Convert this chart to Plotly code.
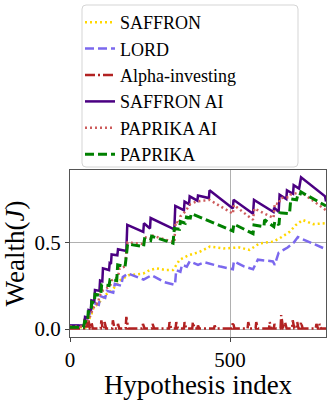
import plotly.graph_objects as go

# ---------------- data ----------------
saffron_x = [0, 50, 58, 66, 73, 90, 109, 130, 156, 182, 210, 229, 249, 270, 300, 322, 343, 370, 405, 437, 480, 530, 561, 592, 634, 655, 686, 706, 727, 760, 800]
saffron_y = [0.01, 0.01, 0.05, 0.08, 0.12, 0.15, 0.195, 0.22, 0.28, 0.31, 0.315, 0.32, 0.34, 0.35, 0.34, 0.34, 0.40, 0.425, 0.445, 0.475, 0.465, 0.47, 0.456, 0.494, 0.504, 0.523, 0.56, 0.60, 0.629, 0.605, 0.61]

lord_x = [0, 45, 50, 60, 68, 75, 90, 95, 110, 115, 135, 140, 160, 165, 182, 230, 255, 296, 328, 332, 345, 350, 365, 374, 400, 420, 470, 509, 512, 545, 572, 587, 634, 640, 652, 680, 700, 712, 800]
lord_y = [0.02, 0.02, 0.05, 0.08, 0.12, 0.15, 0.14, 0.19, 0.18, 0.22, 0.21, 0.26, 0.25, 0.30, 0.32, 0.285, 0.31, 0.27, 0.255, 0.34, 0.33, 0.37, 0.36, 0.39, 0.37, 0.385, 0.36, 0.345, 0.39, 0.36, 0.345, 0.40, 0.39, 0.37, 0.44, 0.47, 0.50, 0.53, 0.46]

alpha_x = [0, 44, 46, 49, 51, 53, 56, 58, 62, 65, 67, 71, 96, 98, 102, 106, 108, 113, 132, 134, 139, 148, 150, 154,
           174, 176, 182, 226, 228, 233, 256, 258, 263, 309, 311, 316, 330, 332, 337, 356, 358, 363, 382, 384, 389,
           398, 400, 404, 450, 452, 456, 507, 509, 514, 555, 557, 562, 580, 582, 587, 622, 624, 629, 637, 639, 643,
           658, 660, 666, 670, 672, 677, 694, 696, 701, 708, 710, 714, 720, 722, 727, 768, 770, 775, 778, 780, 784, 800]
alpha_y = [0.003, 0.003, 0.06, 0.003, 0.003, 0.04, 0.003, 0.05, 0.003, 0.003, 0.04, 0.003, 0.003, 0.05, 0.003, 0.003, 0.04, 0.003,
           0.003, 0.05, 0.003, 0.003, 0.03, 0.003, 0.003, 0.07, 0.003, 0.003, 0.03, 0.003, 0.003, 0.03, 0.003,
           0.003, 0.04, 0.003, 0.003, 0.04, 0.003, 0.003, 0.04, 0.003, 0.003, 0.04, 0.003, 0.003, 0.02, 0.003,
           0.003, 0.02, 0.003, 0.003, 0.04, 0.003, 0.003, 0.04, 0.003, 0.003, 0.04, 0.003, 0.003, 0.04, 0.003,
           0.003, 0.03, 0.003, 0.003, 0.08, 0.003, 0.003, 0.04, 0.003, 0.003, 0.05, 0.003, 0.003, 0.04, 0.003,
           0.003, 0.04, 0.003, 0.003, 0.03, 0.003, 0.003, 0.03, 0.003, 0.003]

saffron_ai_x = [0, 45, 47, 56, 58, 65, 67, 76, 78, 92, 94, 101, 103, 122, 124, 128, 130, 148, 150, 176, 179, 229, 231, 250, 252,
                326, 329, 356, 358, 372, 374, 398, 400, 434, 436, 509, 511, 572, 575, 636, 638, 652, 655, 676, 678, 697, 699,
                716, 722, 797, 800]
saffron_ai_y = [0.02, 0.02, 0.07, 0.065, 0.11, 0.105, 0.165, 0.16, 0.225, 0.22, 0.28, 0.275, 0.35, 0.34, 0.38, 0.375, 0.43, 0.425,
                0.46, 0.45, 0.60, 0.56, 0.61, 0.58, 0.64, 0.575, 0.71, 0.685, 0.735, 0.72, 0.765, 0.74, 0.77, 0.755, 0.80,
                0.695, 0.745, 0.665, 0.745, 0.675, 0.70, 0.675, 0.775, 0.75, 0.80, 0.78, 0.83, 0.81, 0.875, 0.765, 0.735]

paprika_ai_x = [0, 45, 50, 60, 70, 78, 88, 92, 104, 125, 130, 150, 155, 172, 176, 180, 230, 233, 252, 255, 326, 330, 342, 345,
                359, 376, 395, 436, 509, 512, 572, 576, 636, 640, 652, 658, 686, 690, 722, 800]
paprika_ai_y = [0.015, 0.015, 0.04, 0.06, 0.11, 0.14, 0.15, 0.19, 0.225, 0.245, 0.28, 0.30, 0.35, 0.36, 0.44, 0.50, 0.49, 0.53,
                0.52, 0.54, 0.50, 0.62, 0.61, 0.65, 0.675, 0.72, 0.735, 0.745, 0.665, 0.715, 0.63, 0.695, 0.64, 0.725,
                0.72, 0.755, 0.76, 0.775, 0.79, 0.685]

paprika_x = [0, 42, 46, 55, 57, 66, 68, 76, 78, 96, 99, 122, 125, 146, 149, 172, 176, 180, 230, 233, 252, 255, 322, 326, 342,
             345, 360, 364, 376, 379, 509, 512, 572, 575, 606, 608, 637, 640, 653, 656, 686, 690, 708, 712, 718, 722, 800]
paprika_y = [0.01, 0.01, 0.045, 0.04, 0.10, 0.10, 0.155, 0.15, 0.20, 0.195, 0.255, 0.25, 0.285, 0.28, 0.37, 0.36, 0.42, 0.49,
             0.475, 0.52, 0.51, 0.535, 0.495, 0.58, 0.575, 0.62, 0.61, 0.645, 0.64, 0.665, 0.565, 0.605, 0.55, 0.60,
             0.59, 0.63, 0.59, 0.62, 0.60, 0.67, 0.665, 0.75, 0.745, 0.775, 0.77, 0.79, 0.71]

x_ticks = [0, 500]
y_ticks = [0.0, 0.5]
y_ticktext = ["0.0", "0.5"]

series = [
    ("SAFFRON", saffron_x, saffron_y, "#FFD700", "2px,3px", 2.5),
    ("LORD", lord_x, lord_y, "#7B68EE", "9px,4px", 2.5),
    ("Alpha-investing", alpha_x, alpha_y, "#B22222", "10px,3px,2px,3px", 2.5),
    ("SAFFRON AI", saffron_ai_x, saffron_ai_y, "#4B0082", "solid", 2.5),
    ("PAPRIKA AI", paprika_ai_x, paprika_ai_y, "#CD5C5C", "2px,3px", 2.5),
    ("PAPRIKA", paprika_x, paprika_y, "#008000", "9px,4px", 3),
]

FONT = "Liberation Serif, Times New Roman, serif"

# ---------------- layout geometry (pixels) ----------------
W, H = 332, 400
ML, MR, MT, MB = 70, 6, 170, 63
PW, PH = W - ML - MR, H - MT - MB


def px_x(p):
    return (p - ML) / PW


def px_y(p):
    return (H - MB - p) / PH


# rounded legend frame (matplotlib style)
bx0, bx1, by0, by1, r = 82, 298, 5, 167, 4
frame_path = (
    f"M {px_x(bx0 + r)} {px_y(by0)} L {px_x(bx1 - r)} {px_y(by0)} "
    f"Q {px_x(bx1)} {px_y(by0)} {px_x(bx1)} {px_y(by0 + r)} "
    f"L {px_x(bx1)} {px_y(by1 - r)} Q {px_x(bx1)} {px_y(by1)} {px_x(bx1 - r)} {px_y(by1)} "
    f"L {px_x(bx0 + r)} {px_y(by1)} Q {px_x(bx0)} {px_y(by1)} {px_x(bx0)} {px_y(by1 - r)} "
    f"L {px_x(bx0)} {px_y(by0 + r)} Q {px_x(bx0)} {px_y(by0)} {px_x(bx0 + r)} {px_y(by0)} Z"
)

fig = go.Figure()
for name, xs, ys, color, dash, w in series:
    fig.add_trace(go.Scatter(x=xs, y=ys, mode="lines", name=name, legendgroup=name,
                             line=dict(color=color, dash=dash, width=w)))

fig.add_shape(type="path", path=frame_path, xref="paper", yref="paper",
              line=dict(color="#d5d5d5", width=1), fillcolor="white", layer="below")

fig.update_layout(
    width=W, height=H,
    margin=dict(l=ML, r=MR, t=MT, b=MB, autoexpand=False),
    paper_bgcolor="white", plot_bgcolor="white",
    font=dict(family=FONT, color="black"),
    legend=dict(x=px_x(80), y=px_y(4), xanchor="left", yanchor="top",
                font=dict(family=FONT, size=18, color="black"),
                bgcolor="rgba(0,0,0,0)", borderwidth=0,
                tracegroupgap=0, itemwidth=30),
    showlegend=True,
)
fig.update_xaxes(range=[0, 800], tickvals=x_ticks, ticks="outside", ticklen=4, tickcolor="#444",
                 tickfont=dict(family=FONT, size=21), showgrid=True, gridcolor="#b0b0b0", gridwidth=0.8,
                 showline=True, mirror=True, linecolor="#555", linewidth=1, zeroline=False, automargin=False,
                 title=dict(text="Hypothesis index", font=dict(family=FONT, size=27), standoff=4))
fig.update_yaxes(range=[-0.046, 0.917], tickvals=y_ticks, ticktext=y_ticktext, ticks="outside", ticklen=4, tickcolor="#444",
                 tickfont=dict(family=FONT, size=21), showgrid=True, gridcolor="#b0b0b0", gridwidth=0.8,
                 showline=True, mirror=True, linecolor="#555", linewidth=1, zeroline=False, automargin=False,
                 title=dict(text="Wealth(<i>J</i>)", font=dict(family=FONT, size=27), standoff=4))

fig.write_html("out.html", config={"displayModeBar": False},
               post_script="document.body.style.margin='0';")
